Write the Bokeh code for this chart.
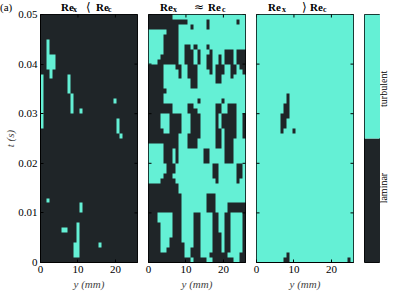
import math
import numpy as np
from bokeh.plotting import figure
from bokeh.layouts import row, column
from bokeh.models import Range1d, FixedTicker, LinearColorMapper, Div
from bokeh.embed import file_html
from bokeh.resources import INLINE

# ---------------- data ----------------
Y_MM_MAX = 25.9          # spanwise extent (mm)
T_MAX = 0.05             # time extent (s)
x_ticks = [0, 10, 20]
x_tick_labels = ["0", "10", "20"]
t_ticks = [0, 0.01, 0.02, 0.03, 0.04, 0.05]
t_tick_labels = ["0", "0.01", "0.02", "0.03", "0.04", "0.05"]
state_names = ["laminar", "turbulent"]
state_values = [0, 1]
state_tick_pos = [0.3, 0.7]
x_label = "y (mm)"
t_label = "t (s)"
panel_letter = "(a)"
relations = ["\u27e8", "\u2248", "\u27e9"]

# state maps, top row = t_max, '#' = laminar, '.' = turbulent (32 cols x 50 rows)
field_low = [
    "################################",
    "################################",
    "################################",
    "################################",
    "################################",
    "##.#############################",
    "##.#############################",
    "##.#############################",
    "##...###########################",
    "##...###########################",
    "##...###########################",
    "###.############################",
    ".##.#####.######################",
    ".########.######################",
    ".########.######################",
    ".########.######################",
    ".#########.#####################",
    ".#########.#############.#######",
    ".#########.#####################",
    ".#########.##.##################",
    ".###############################",
    ".########################.######",
    ".########################.######",
    "#########################.######",
    "##########################.#####",
    "################################",
    "################################",
    "################################",
    "################################",
    "################################",
    "################################",
    "################################",
    "################################",
    "################################",
    "################################",
    "################################",
    "################################",
    "##.#############################",
    "#############.##################",
    "#############.##################",
    "################################",
    "################################",
    "############.###################",
    "#######..###.###################",
    "############.###################",
    "############.###################",
    "###########..######.############",
    "###########..###################",
    "###########..###################",
    "################################",
]

field_mid = [
    "########........................",
    "#############......#.........#..",
    "##########....#....#............",
    "......####......................",
    ".....#####......................",
    ".....#####......................",
    ".....#####..##.#...#............",
    ".....#####..###.#...#....###.###",
    "....######..###.#..##..#.###.###",
    "...#######..###.#..##..#.###.###",
    "#####....##..###...##.###..##.##",
    "#####.....#..###....#.###..##..#",
    "#####.....#..###......##...#....",
    "#####.........##......##........",
    "#####.........##................",
    "######..........................",
    "#####...........................",
    "#####...........#.......#.......",
    "########.....##.......##..###...",
    "########.....###......##..###...",
    "####...####...###.....#.#####..#",
    "####...####...###.....#.#####..#",
    "####...####...###.....#.#####..#",
    "#####..####...###.....##.####..#",
    "##########...####.....##.####..#",
    "##########...###......##.###....",
    ".....#####...###......##.###....",
    ".....###.#........##.....###....",
    ".....###.#........##.....###....",
    ".....###.#........##.....###....",
    "......###............##......##.",
    "......###............##......##.",
    ".....###.............##......##.",
    "....#####.............#......#..",
    "##########......................",
    "##########......................",
    "###########........###..........",
    "###########........###..........",
    "###########........###....######",
    "###########........###....######",
    "###.....###....##....##..##....#",
    "###.....###....##....##..##....#",
    "####....###....##....##..##....#",
    "####....###....##....##..##....#",
    "####....###....##....###.##....#",
    "####...####....##....###.##....#",
    "####...#####...##....###.##....#",
    "####..######..###....###.##....#",
    "############..###...######....##",
    "##############.####..#######..##",
]

field_high = [
    "................................",
    "................................",
    "................................",
    "................................",
    "................................",
    "................................",
    "................................",
    "................................",
    "................................",
    "................................",
    "................................",
    "................................",
    "................................",
    "................................",
    "................................",
    "................................",
    "..........#.....................",
    "..........#.....................",
    ".........##.....................",
    ".........##.....................",
    "........###.....................",
    "........##......................",
    "........##......................",
    "........#...#...................",
    "................................",
    "................................",
    "................................",
    "................................",
    "................................",
    "................................",
    "................................",
    "................................",
    "................................",
    "................................",
    "................................",
    "................................",
    "................................",
    "................................",
    "................................",
    "................................",
    "................................",
    "................................",
    "................................",
    "................................",
    "................................",
    "................................",
    "................................",
    "................................",
    "..........#.....................",
    ".........##...................#.",
]

# ---------------- style ----------------
DARK = "#1f2528"
TEAL = "#64f0d5"
PALETTE = [DARK, TEAL]
SERIF = "Liberation Serif"
FRAME_W = 97
FRAME_H = 248
TOP = 8
BOTTOM = 32
HEIGHT = TOP + FRAME_H + BOTTOM
HEADER_H = 13
OVERLAP = 7


def to_array(field):
    ncol = max(len(r) for r in field)
    rows = [r.ljust(ncol, r[-1])[:ncol] for r in field]
    return np.array([[1.0 if ch == "." else 0.0 for ch in r] for r in rows[::-1]])


def style_axis(ax):
    ax.major_tick_in = 3
    ax.major_tick_out = 0
    ax.minor_tick_line_color = None
    ax.axis_line_color = "black"
    ax.major_tick_line_color = "black"
    ax.major_label_text_font = SERIF
    ax.major_label_text_color = "black"
    ax.major_label_text_font_size = "11px"
    ax.major_label_standoff = 3


def base_fig(width, left, right, xr, yr, yloc):
    f = figure(width=width, height=HEIGHT, title=None, x_range=xr, y_range=yr,
               min_border_left=left, min_border_right=right,
               min_border_top=TOP, min_border_bottom=BOTTOM,
               x_axis_location=None, y_axis_location=yloc,
               output_backend="svg", toolbar_location=None, tools="")
    f.grid.visible = False
    f.border_fill_color = None
    return f


def panel(field, first):
    lb = 40 if first else 6
    p = figure(width=lb + FRAME_W + 5, height=HEIGHT, title=None,
               x_range=Range1d(0, Y_MM_MAX), y_range=Range1d(0, T_MAX),
               min_border_left=lb, min_border_right=5,
               min_border_top=TOP, min_border_bottom=BOTTOM,
               y_axis_location="left" if first else None,
               output_backend="svg", toolbar_location=None, tools="")
    p.grid.visible = False
    p.border_fill_color = None
    p.outline_line_color = "black"
    p.background_fill_color = DARK
    mapper = LinearColorMapper(palette=PALETTE, low=0, high=1)
    p.image(image=[to_array(field)], x=0, y=0, dw=Y_MM_MAX, dh=T_MAX, color_mapper=mapper)

    xa = p.xaxis[0]
    xa.ticker = FixedTicker(ticks=x_ticks)
    xa.major_label_overrides = dict(zip(x_ticks, x_tick_labels))
    style_axis(xa)
    xa.axis_label = x_label
    xa.axis_label_text_font = SERIF
    xa.axis_label_text_font_size = "11px"
    xa.axis_label_text_font_style = "italic"
    xa.axis_label_standoff = 2

    if first:
        ya = p.yaxis[0]
        ya.ticker = FixedTicker(ticks=t_ticks)
        ya.major_label_overrides = dict(zip(t_ticks, t_tick_labels))
        style_axis(ya)
        ya.axis_label = t_label
        ya.axis_label_text_font = SERIF
        ya.axis_label_text_font_size = "11px"
        ya.axis_label_text_font_style = "italic"
        ya.axis_label_standoff = -1
    else:
        # inward ticks on the left edge (half of each dash is clipped by the frame)
        p.scatter(x=[0] * len(t_ticks), y=t_ticks, marker="dash", size=6,
                  line_color="black", line_width=1)

    # inward ticks on top and right edges
    p.scatter(x=x_ticks, y=[T_MAX] * len(x_ticks), marker="dash", angle=math.pi / 2,
              size=6, line_color="black", line_width=1)
    p.scatter(x=[Y_MM_MAX] * len(t_ticks), y=t_ticks, marker="dash", size=6,
              line_color="black", line_width=1)
    return p


p1 = panel(field_low, True)
p2 = panel(field_mid, False)
p3 = panel(field_high, False)

# colour bar
cb = base_fig(6 + 16, 6, 0, Range1d(0, 1), Range1d(0, 1), None)
cb.outline_line_color = "black"
n_states = len(state_values)
cb.quad(left=0, right=1,
        bottom=[v / n_states for v in state_values],
        top=[(v + 1) / n_states for v in state_values],
        fill_color=[PALETTE[v] for v in state_values], line_color=None)

# colour bar labels (axis of a thin companion plot, text read bottom-to-top)
cl = base_fig(15, 14, 0, Range1d(0, 1), Range1d(0, 1), "left")
cl.outline_line_color = None
ca = cl.yaxis[0]
ca.ticker = FixedTicker(ticks=state_tick_pos)
ca.major_label_overrides = dict(zip(state_tick_pos, state_names))
ca.major_label_orientation = "parallel"
ca.major_tick_line_color = None
ca.minor_tick_line_color = None
ca.axis_line_color = None
ca.major_label_text_font = SERIF
ca.major_label_text_font_size = "10px"
ca.major_label_text_color = "black"
ca.major_label_standoff = 0


# header with panel titles
def span(txt, left, top, size, bold=False, family=SERIF):
    weight = "bold" if bold else "normal"
    return (f'<span style="position:absolute; left:{left}px; top:{top}px; '
            f"font-family:'{family}'; font-size:{size}px; font-weight:{weight}; "
            f'line-height:1; white-space:nowrap; color:black;">{txt}</span>')


def title_spans(rel, lefts):
    return (span("Re", lefts[0], 2, 11, True) + span("x", lefts[1], 6, 8, True)
            + span(rel, lefts[2], 1, 12, False, "DejaVu Sans")
            + span("Re", lefts[3], 2, 11, True) + span("c", lefts[4], 6, 8, True))


header_html = (f'<div style="position:relative; width:395px; height:{HEADER_H}px;">'
               + span(panel_letter, 0, 2, 11)
               + title_spans(relations[0], [61, 73, 86, 96, 108])
               + title_spans(relations[1], [160, 173, 194, 208, 222])
               + title_spans(relations[2], [268, 282, 302, 310, 323])
               + "</div>")
header = Div(text=header_html, width=395, height=HEADER_H, margin=(0, 0, -OVERLAP, 0))

layout = column(header, row(p1, p2, p3, cb, cl, spacing=0), spacing=0)
open("out.html", "w").write(file_html(layout, INLINE))
